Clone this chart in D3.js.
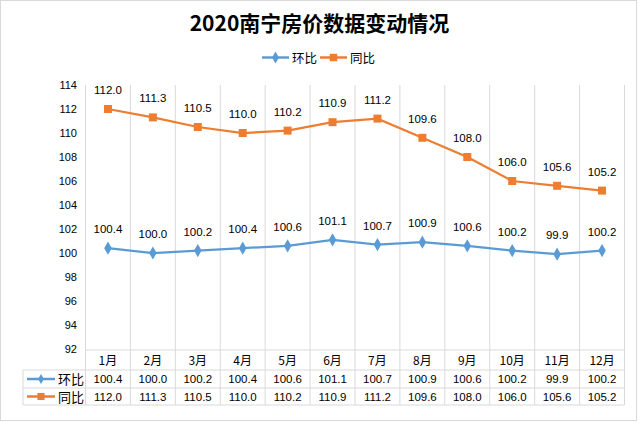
<!DOCTYPE html>
<html><head><meta charset="utf-8">
<script src="https://cdn.jsdelivr.net/npm/d3@7"></script>
<style>body{margin:0;background:#fff}svg{display:block}</style>
</head><body>
<script>
const months = ["1月","2月","3月","4月","5月","6月","7月","8月","9月","10月","11月","12月"];
const huanbi = [100.4,100.0,100.2,100.4,100.6,101.1,100.7,100.9,100.6,100.2,99.9,100.2];
const tongbi = [112.0,111.3,110.5,110.0,110.2,110.9,111.2,109.6,108.0,106.0,105.6,105.2];
const yTicks = [92,94,96,98,100,102,104,106,108,110,112,114];
const seriesNames = ["环比","同比"];
const title = "2020南宁房价数据变动情况";

(function(){
const W=639,H=422;
const blue="#5B9BD5", orange="#ED7D31", grid="#d9d9d9";
const numFont = "'Liberation Sans','Noto Sans CJK SC',sans-serif";
const cjkFont = "'Noto Sans CJK SC','Liberation Sans',sans-serif";
const svg=d3.select("body").append("svg").attr("width",W).attr("height",H);
svg.append("rect").attr("x",0.5).attr("y",0.5).attr("width",W-3).attr("height",H-2).attr("fill","#fff").attr("stroke",grid);

const pL=85.5, pR=624.5, pT=85, pB=349;
const x=d3.scaleBand().domain(months).range([pL,pR]);
const y=d3.scaleLinear().domain([92,114]).range([pB,pT]);
const rowY=[350,370,388,405];

// title
svg.append("text").attr("x",319.5).attr("y",31).attr("text-anchor","middle")
  .attr("font-family",cjkFont).attr("font-weight","bold").attr("font-size",21).text(title);

// legend
const legend=[{name:seriesNames[0],color:blue,shape:d3.symbolDiamond},{name:seriesNames[1],color:orange,shape:d3.symbolSquare}];
const lx=[262,320];
legend.forEach((l,i)=>{
  const g=svg.append("g").attr("transform",`translate(${lx[i]},57.5)`);
  g.append("line").attr("x1",0).attr("x2",27).attr("stroke",l.color).attr("stroke-width",2.5);
  g.append("path").attr("d",d3.symbol().type(l.shape).size(i?56:40)()).attr("transform","translate(13.5,0)").attr("fill",l.color);
  g.append("text").attr("x",30).attr("y",5).attr("font-family",cjkFont).attr("font-size",12.5).text(l.name);
});

// vertical gridlines
const edges=months.map(m=>x(m)).concat([pR]);
svg.selectAll(".vg").data(edges).enter().append("line")
  .attr("x1",d=>d).attr("x2",d=>d).attr("y1",pT).attr("y2",rowY[3]).attr("stroke",grid).attr("stroke-width",1);
// table horizontal lines
svg.append("line").attr("x1",pL).attr("x2",pR).attr("y1",rowY[0]).attr("y2",rowY[0]).attr("stroke",grid);
[1,2,3].forEach(i=>svg.append("line").attr("x1",23).attr("x2",pR).attr("y1",rowY[i]).attr("y2",rowY[i]).attr("stroke",grid));
svg.append("line").attr("x1",23).attr("x2",23).attr("y1",rowY[1]).attr("y2",rowY[3]).attr("stroke",grid);

// y axis labels
svg.selectAll(".yt").data(yTicks).enter().append("text")
  .attr("x",77).attr("y",d=>y(d)+4).attr("text-anchor","end")
  .attr("font-family",numFont).attr("font-size",11).text(d=>d);

// month labels
svg.selectAll(".ml").data(months).enter().append("text")
  .attr("x",d=>x(d)+x.bandwidth()/2).attr("y",364.5).attr("text-anchor","middle")
  .attr("font-family",cjkFont).attr("font-size",12).text(d=>d);

// series
const seriesData=[huanbi,tongbi];
seriesData.forEach((vals,si)=>{
  const col=legend[si].color;
  const line=d3.line().x((d,i)=>x(months[i])+x.bandwidth()/2).y(d=>y(d));
  svg.append("path").datum(vals).attr("d",line).attr("fill","none").attr("stroke",col).attr("stroke-width",2.25);
  svg.selectAll(".m"+si).data(vals).enter().append("path")
    .attr("d",d3.symbol().type(legend[si].shape).size(si?64:50)())
    .attr("transform",(d,i)=>`translate(${x(months[i])+x.bandwidth()/2},${y(d)})`).attr("fill",col);
  svg.selectAll(".l"+si).data(vals).enter().append("text")
    .attr("x",(d,i)=>x(months[i])+x.bandwidth()/2).attr("y",d=>y(d)-15)
    .attr("text-anchor","middle").attr("font-family",numFont).attr("font-size",11.5).text(d=>d.toFixed(1));
  // table row
  const ry=rowY[si+1], rc=ry+(rowY[si+2]-ry)/2;
  svg.selectAll(".t"+si).data(vals).enter().append("text")
    .attr("x",(d,i)=>x(months[i])+x.bandwidth()/2).attr("y",rc+4).attr("text-anchor","middle")
    .attr("font-family",numFont).attr("font-size",11.5).text(d=>d.toFixed(1));
  const g=svg.append("g").attr("transform",`translate(27,${rc})`);
  g.append("line").attr("x1",0).attr("x2",28).attr("stroke",col).attr("stroke-width",2.5);
  g.append("path").attr("d",d3.symbol().type(legend[si].shape).size(si?50:30)()).attr("transform","translate(14,0)").attr("fill",col);
  g.append("text").attr("x",31).attr("y",5).attr("font-family",cjkFont).attr("font-size",13).text(seriesNames[si]);
});
})();
</script>
</body></html>
